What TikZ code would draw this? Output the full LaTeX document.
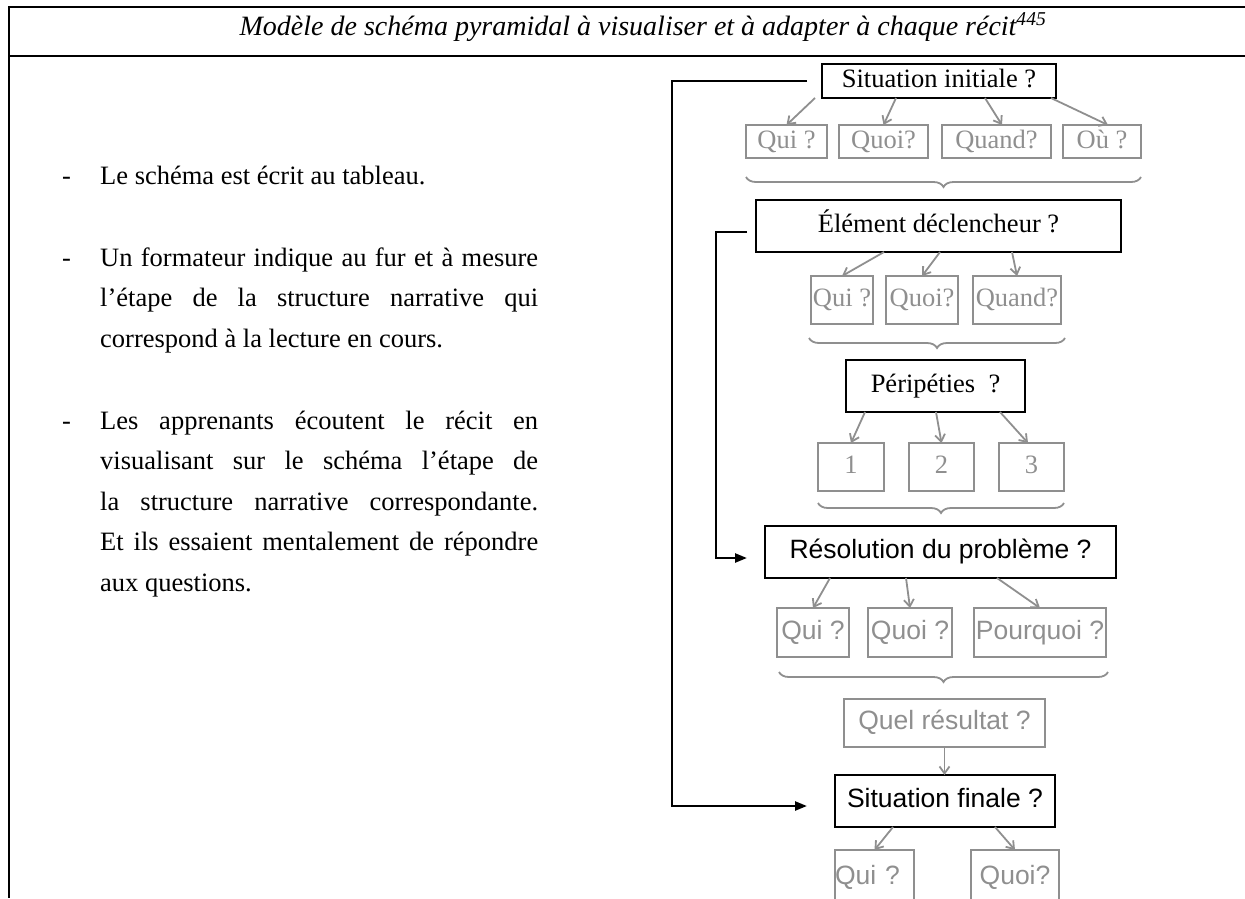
\documentclass[tikz,border=0pt]{standalone}
\usepackage{fontspec}
\setmainfont{Liberation Serif}
\setsansfont{Liberation Sans}
\usetikzlibrary{arrows.meta,decorations.pathreplacing}
\definecolor{schgray}{RGB}{143,143,143}
\newcommand\bsz{\fontsize{26.5pt}{32pt}\selectfont}
\begin{document}
\begin{tikzpicture}[x=1pt,y=-1pt,
  frameline/.style={line width=2.8pt, black},
  bodyline/.style={anchor=base west, inner sep=0pt, font=\rmfamily\bsz},
  keybox/.style={draw=black, line width=2.6pt, inner sep=0pt, outer sep=0pt,
    text height=19pt, text depth=6pt, font=\rmfamily\bsz},
  subbox/.style={draw=schgray, line width=2pt, inner sep=0pt, outer sep=0pt,
    text=schgray, text height=19pt, text depth=6pt, font=\rmfamily\bsz},
  sansfont/.style={font=\sffamily\bsz},
  subarrow/.style={draw=schgray, line width=1.8pt, -{Straight Barb[length=7pt,width=10pt]}},
  linkarrow/.style={draw=black, line width=2.4pt, -{Triangle[length=12pt,width=9pt]}},
  groupbrace/.style={draw=schgray, line width=1.8pt, decorate,
    decoration={brace, mirror, amplitude=10pt}},
]
\useasboundingbox (0,0) rectangle (1245,898);

% table frame
\draw[frameline] (1245,7) -- (9,7) -- (9,898);
\draw[frameline] (9,56) -- (1245,56);

% header
\node[anchor=base, inner sep=0pt, font=\rmfamily\fontsize{28pt}{32pt}\selectfont\itshape] (title) at (643,35)
  {Modèle de schéma pyramidal à visualiser et à adapter à chaque récit\textsuperscript{445}};

% instructions
\node[bodyline] (dashA) at (62,184) {-};
\node[bodyline] (lineA1) at (100,184) {Le schéma est écrit au tableau.};
\node[bodyline] (dashB) at (62,266) {-};
\node[bodyline] (lineB1) at (100,266) {\makebox[438pt][s]{Un formateur indique au fur et à mesure}};
\node[bodyline] (lineB2) at (100,306.5) {\makebox[438pt][s]{l’étape de la structure narrative qui}};
\node[bodyline] (lineB3) at (100,347) {correspond à la lecture en cours.};
\node[bodyline] (dashC) at (62,429) {-};
\node[bodyline] (lineC1) at (100,429) {\makebox[438pt][s]{Les apprenants écoutent le récit en}};
\node[bodyline] (lineC2) at (100,469.5) {\makebox[438pt][s]{visualisant sur le schéma l’étape de}};
\node[bodyline] (lineC3) at (100,510) {\makebox[438pt][s]{la structure narrative correspondante.}};
\node[bodyline] (lineC4) at (100,550.5) {\makebox[438pt][s]{Et ils essaient mentalement de répondre}};
\node[bodyline] (lineC5) at (100,591) {aux questions.};

% main stages
\node[keybox, minimum width=234pt, minimum height=34pt] (sitinit) at (939,81) {Situation initiale ?};
\node[keybox, minimum width=365pt, minimum height=52pt] (elem) at (938.5,226) {Élément déclencheur ?};
\node[keybox, minimum width=179pt, minimum height=52pt] (peri) at (935.5,386) {Péripéties~~?};
\node[keybox, sansfont, minimum width=351pt, minimum height=52pt] (resol) at (940.5,552) {Résolution du problème ?};
\node[keybox, sansfont, minimum width=220pt, minimum height=52pt] (sitfin) at (945,801) {Situation finale ?};

% questions of the initial situation
\node[subbox, minimum width=81pt, minimum height=33pt] (q1a) at (786.5,141.5) {Qui ?};
\node[subbox, minimum width=89pt, minimum height=33pt] (q1b) at (883.5,141.5) {Quoi?};
\node[subbox, minimum width=109pt, minimum height=33pt] (q1c) at (996.5,141.5) {Quand?};
\node[subbox, minimum width=78pt, minimum height=33pt] (q1d) at (1102,141.5) {Où ?};

% questions of the triggering event
\node[subbox, minimum width=62pt, minimum height=48pt] (q2a) at (842,300) {Qui ?};
\node[subbox, minimum width=72pt, minimum height=48pt] (q2b) at (922,300) {Quoi?};
\node[subbox, minimum width=88pt, minimum height=48pt] (q2c) at (1017,300) {Quand?};

% episodes
\node[subbox, minimum width=66pt, minimum height=48pt] (n1) at (851,467) {1};
\node[subbox, minimum width=65pt, minimum height=48pt] (n2) at (941.5,467) {2};
\node[subbox, minimum width=65pt, minimum height=48pt] (n3) at (1031.5,467) {3};

% questions of the resolution
\node[subbox, sansfont, minimum width=72pt, minimum height=49pt] (q4a) at (813,632.5) {Qui ?};
\node[subbox, sansfont, minimum width=84pt, minimum height=49pt] (q4b) at (910,632.5) {Quoi ?};
\node[subbox, sansfont, minimum width=132pt, minimum height=49pt] (q4c) at (1040,632.5) {Pourquoi ?};
\node[subbox, sansfont, minimum width=201pt, minimum height=48pt] (qres) at (944.5,723) {Quel résultat ?};

% questions of the final situation
\node[subbox, sansfont, minimum width=79pt, text width=79pt, align=left, minimum height=56pt] (q5a) at (874.5,878) {Qui ?};
\node[subbox, sansfont, minimum width=88pt, minimum height=56pt] (q5b) at (1015,878) {Quoi?};

% grey arrows towards the questions
\draw[subarrow] ([xshift=-7pt]sitinit.south west) -- (q1a.north);
\draw[subarrow] ([xshift=74pt]sitinit.south west) -- (q1b.north);
\draw[subarrow] ([xshift=163pt]sitinit.south west) -- ([xshift=5.5pt]q1c.north);
\draw[subarrow] ([xshift=-5pt]sitinit.south east) -- ([xshift=6pt]q1d.north);

\draw[subarrow] ([xshift=128pt]elem.south west) -- (q2a.north);
\draw[subarrow] ([xshift=184pt]elem.south west) -- (q2b.north);
\draw[subarrow] ([xshift=256pt]elem.south west) -- (q2c.north);

\draw[subarrow] ([xshift=19pt]peri.south west) -- (n1.north);
\draw[subarrow] ([xshift=90pt]peri.south west) -- (n2.north);
\draw[subarrow] ([xshift=154pt]peri.south west) -- ([xshift=-3.5pt]n3.north);

\draw[subarrow] ([xshift=65pt]resol.south west) -- (q4a.north);
\draw[subarrow] ([xshift=141pt]resol.south west) -- (q4b.north);
\draw[subarrow] ([xshift=232pt]resol.south west) -- (q4c.north);

\draw[subarrow] (qres.south) -- (qres.south |- sitfin.north);

\draw[subarrow] ([xshift=58pt]sitfin.south west) -- (q5a.north);
\draw[subarrow] ([xshift=160pt]sitfin.south west) -- (q5b.north);

% braces under each group of questions
\draw[groupbrace] ([yshift=-19pt]q1a.south west) -- ([yshift=-19pt]q1d.south east);
\draw[groupbrace] ([yshift=-14pt,xshift=-2pt]q2a.south west) -- ([yshift=-14pt,xshift=4pt]q2c.south east);
\draw[groupbrace] ([yshift=-12pt]n1.south west) -- ([yshift=-12pt]n3.south east);
\draw[groupbrace] ([yshift=-15pt,xshift=2pt]q4a.south west) -- ([yshift=-15pt,xshift=2pt]q4c.south east);

% black links between stages
\draw[linkarrow] ([xshift=-15pt]sitinit.west) -- ++(-135,0) |- ([xshift=-28pt,yshift=-5pt]sitfin.west);
\draw[linkarrow] ([xshift=-9pt,yshift=-6pt]elem.west) -- ++(-31,0) |- ([xshift=-18pt,yshift=-6pt]resol.west);

\end{tikzpicture}
\end{document}
